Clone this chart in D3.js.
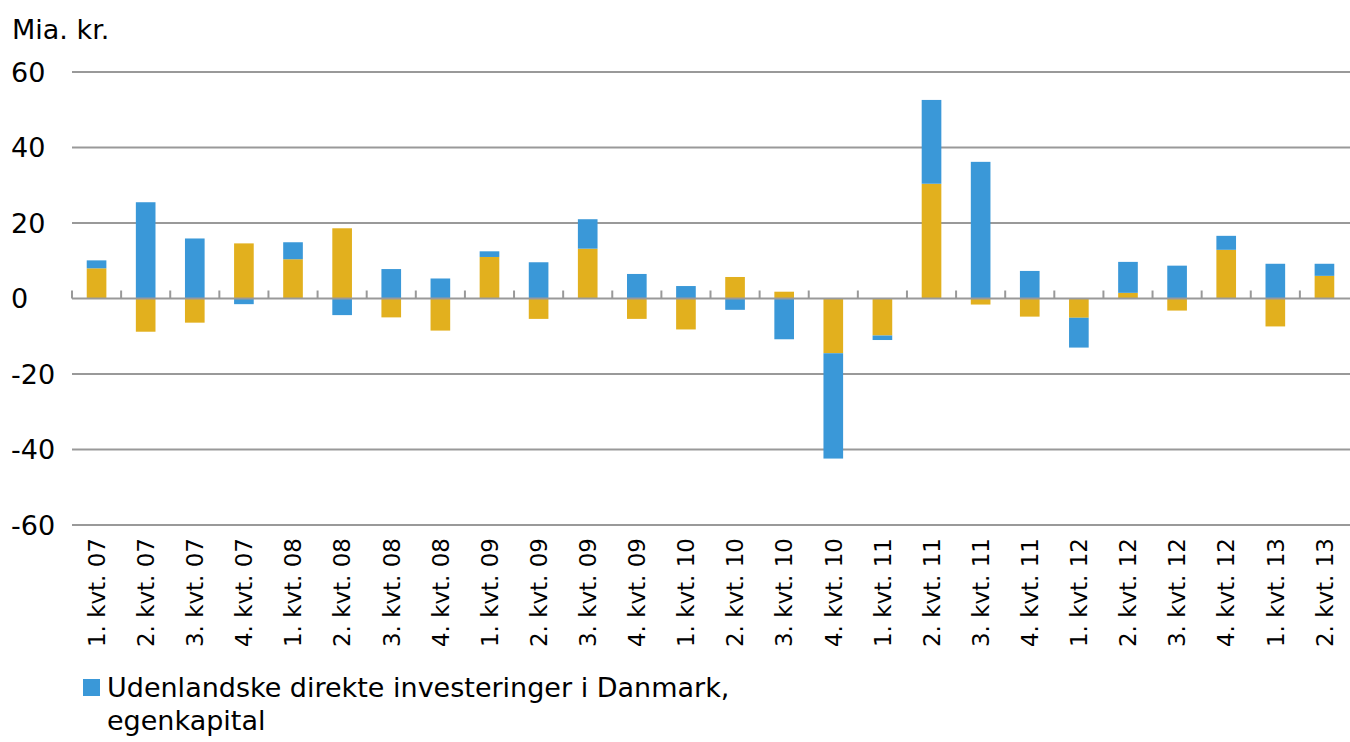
<!DOCTYPE html>
<html>
  <head>
  <meta charset="utf-8">
  <title>Direkte investeringer</title>
  <style>
    body, html {
      margin: 0;
      padding: 0;
      background: #fff;
    }
    text {
      font-family: "DejaVu Sans", sans-serif;
      fill: #000;
    }
  </style>
  </head>
  <body>
    <svg id="svg" width="1350" height="742"></svg>
  <script src="https://cdn.jsdelivr.net/npm/d3@7"></script>
  <script>
    const quarters = [
      "1. kvt. 07", "2. kvt. 07", "3. kvt. 07", "4. kvt. 07",
      "1. kvt. 08", "2. kvt. 08", "3. kvt. 08", "4. kvt. 08",
      "1. kvt. 09", "2. kvt. 09", "3. kvt. 09", "4. kvt. 09",
      "1. kvt. 10", "2. kvt. 10", "3. kvt. 10", "4. kvt. 10",
      "1. kvt. 11", "2. kvt. 11", "3. kvt. 11", "4. kvt. 11",
      "1. kvt. 12", "2. kvt. 12", "3. kvt. 12", "4. kvt. 12",
      "1. kvt. 13", "2. kvt. 13"
    ]
    // yellow series (drawn first, nearest zero)
    const otherValues = [
      8.0, -8.8, -6.4, 14.6, 10.4, 18.6, -5.0, -8.5,
      11.0, -5.4, 13.2, -5.4, -8.2, 5.7, 1.8, -14.5,
      -9.8, 30.4, -1.6, -4.8, -5.1, 1.5, -3.2, 12.9,
      -7.4, 6.0
    ]
    // blue series: Udenlandske direkte investeringer i Danmark, egenkapital
    const equityValues = [
      2.1, 25.5, 15.9, -1.5, 4.5, -4.4, 7.8, 5.3,
      1.5, 9.6, 7.8, 6.5, 3.3, -3.0, -10.8, -27.9,
      -1.2, 22.2, 36.2, 7.3, -7.9, 8.2, 8.7, 3.7,
      9.2, 3.2
    ]
    const yTicks = [-60, -40, -20, 0, 20, 40, 60]
    const legendLabel = ["Udenlandske direkte investeringer i Danmark,", "egenkapital"]

    const colors = { other: "#e2b01e", equity: "#3a98d8" }

    const rows = quarters.map((q, i) => ({ q, other: otherValues[i], equity: equityValues[i] }))
    const series = d3.stack()
      .keys(["other", "equity"])
      .offset(d3.stackOffsetDiverging)(rows)

    const margin = { top: 72, left: 72, right: 1, bottom: 217 }
    const width = 1350
    const height = 742

    const xScale = d3.scaleBand()
      .domain(quarters)
      .range([margin.left, width - margin.right])
      .paddingInner(0.6)
      .paddingOuter(0.3)

    const yScale = d3.scaleLinear()
      .domain([-60, 60])
      .range([height - margin.bottom, margin.top])

    const svg = d3.select('#svg')

    // gridlines
    svg.append("g")
      .selectAll("line")
      .data(yTicks.filter(t => t !== 0))
      .enter().append("line")
      .attr("x1", margin.left)
      .attr("x2", width)
      .attr("y1", d => yScale(d))
      .attr("y2", d => yScale(d))
      .attr("stroke", "#999")
      .attr("stroke-width", 2)

    // y labels
    svg.append("g")
      .selectAll("text")
      .data(yTicks)
      .enter().append("text")
      .attr("x", 11)
      .attr("y", d => yScale(d))
      .attr("dy", "0.36em")
      .style("font-size", "27px")
      .text(d => d)

    svg.append("text")
      .attr("x", 12)
      .attr("y", 39)
      .style("font-size", "27px")
      .text("Mia. kr.")

    // bars
    svg.append("g")
      .selectAll("g")
      .data(series)
      .enter().append("g")
      .attr("fill", d => colors[d.key])
      .selectAll("rect")
      .data(d => d)
      .enter().append("rect")
      .attr("x", d => xScale(d.data.q))
      .attr("y", d => yScale(Math.max(d[0], d[1])))
      .attr("height", d => Math.abs(yScale(d[0]) - yScale(d[1])))
      .attr("width", xScale.bandwidth())

    // zero axis with category ticks pointing up
    const step = xScale.step()
    const axisG = svg.append("g")
    axisG.append("line")
      .attr("x1", margin.left)
      .attr("x2", width)
      .attr("y1", yScale(0))
      .attr("y2", yScale(0))
      .attr("stroke", "#999")
      .attr("stroke-width", 2)
    axisG.selectAll(".tick")
      .data(quarters)
      .enter().append("line")
      .attr("x1", d => xScale(d) - step * 0.3)
      .attr("x2", d => xScale(d) - step * 0.3)
      .attr("y1", yScale(0))
      .attr("y2", yScale(0) - 8)
      .attr("stroke", "#999")
      .attr("stroke-width", 2)

    // x labels, rotated
    svg.append("g")
      .selectAll("text")
      .data(quarters)
      .enter().append("text")
      .attr("transform", d => `translate(${xScale(d) + xScale.bandwidth() / 2}, 538) rotate(-90)`)
      .attr("text-anchor", "end")
      .attr("dy", "0.36em")
      .style("font-size", "23px")
      .text(d => d)

    // legend
    const legend = svg.append("g").attr("transform", "translate(83, 679)")
    legend.append("rect")
      .attr("width", 17)
      .attr("height", 17)
      .attr("fill", colors.equity)
    legend.selectAll("text")
      .data(legendLabel)
      .enter().append("text")
      .attr("x", 24)
      .attr("y", (d, i) => 18 + i * 33)
      .style("font-size", "27px")
      .text(d => d)
  </script>
  </body>
</html>
